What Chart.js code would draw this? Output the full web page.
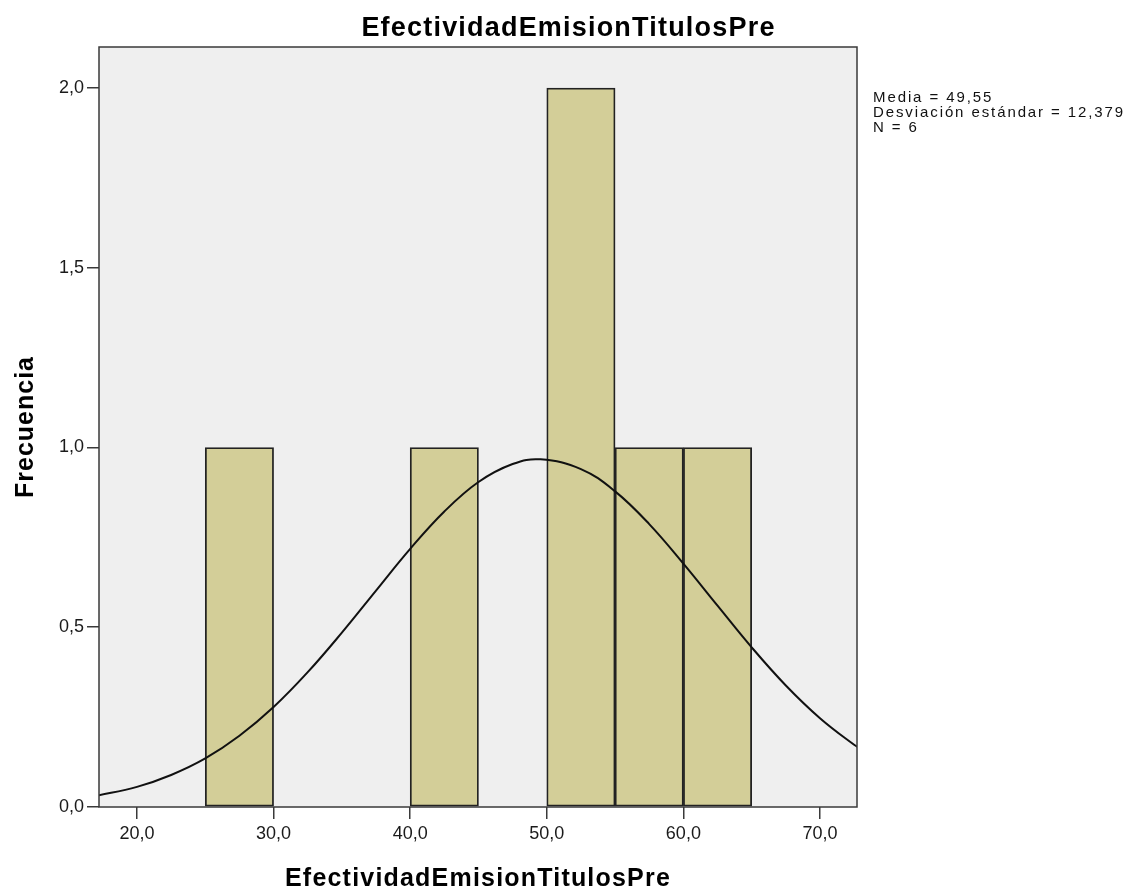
<!DOCTYPE html>
<html>
<head>
<meta charset="utf-8">
<script src="https://cdn.jsdelivr.net/npm/chart.js@4.4.1/dist/chart.umd.min.js"></script>
<style>
  html, body { margin: 0; padding: 0; background: #fff; }
  #wrap { width: 1137px; height: 890px; }
</style>
</head>
<body>
<div id="wrap"><canvas id="histChart"></canvas></div>
<script>
// histogram bins (centre of each 5-wide bin) and counts
const binCenters = [27.5, 42.5, 52.5, 57.5, 62.5];
const binCounts = [1, 1, 2, 1, 1];

// normal curve
const curveX = [17, 20, 22.5, 25, 27.5, 30, 32.5, 35, 37.5, 40, 42.5, 45, 47.5, 49.55, 52.5, 55, 57.5, 60, 62.5, 65, 67.5, 70, 72.5, 73];
const curveY = [0.031, 0.056, 0.089, 0.135, 0.198, 0.278, 0.375, 0.485, 0.602, 0.718, 0.822, 0.904, 0.954, 0.967, 0.940, 0.878, 0.787, 0.677, 0.560, 0.444, 0.338, 0.247, 0.173, 0.162];

const xTicks = [20, 30, 40, 50, 60, 70];
const yTicks = [0, 0.5, 1.0, 1.5, 2.0];

const statLines = ['Media = 49,55', 'Desviación estándar = 12,379', 'N = 6'];
const chartTitle = 'EfectividadEmisionTitulosPre';
const xTitle = 'EfectividadEmisionTitulosPre';
const yTitle = 'Frecuencia';

const FONT = '"Liberation Sans", Arial, sans-serif';

function fmt(v) {
    return v.toFixed(1).replace('.', ',');
}

function spaced(ctx, px) {
    try { ctx.letterSpacing = px + 'px'; } catch (e) {}
}

const plotFrame = {
    id: 'plotFrame',
    beforeDraw(chart) {
        const { ctx, chartArea: a } = chart;
        ctx.save();
        ctx.fillStyle = '#EFEFEF';
        ctx.fillRect(a.left, a.top, a.right - a.left, a.bottom - a.top);
        ctx.restore();
    },
    afterDraw(chart) {
        const { ctx, chartArea: a } = chart;
        ctx.save();
        ctx.strokeStyle = '#3A3A3A';
        ctx.lineWidth = 1.5;
        ctx.strokeRect(a.left, a.top, a.right - a.left, a.bottom - a.top);

        ctx.fillStyle = '#000';
        ctx.textAlign = 'center';
        ctx.textBaseline = 'alphabetic';

        // main title, centred on the whole picture
        ctx.font = 'bold 27px ' + FONT;
        spaced(ctx, 1.2);
        ctx.fillText(chartTitle, chart.width / 2, 36);

        // x axis title, centred under the plot
        ctx.font = 'bold 25px ' + FONT;
        ctx.fillText(xTitle, (a.left + a.right) / 2, 886);

        // y axis title
        ctx.save();
        ctx.translate(33, (a.top + a.bottom) / 2);
        ctx.rotate(-Math.PI / 2);
        spaced(ctx, 1);
        ctx.fillText(yTitle, 0, 0);
        ctx.restore();

        // stats text on the right
        ctx.fillStyle = '#111';
        ctx.font = '15px ' + FONT;
        ctx.textAlign = 'left';
        spaced(ctx, 1.9);
        statLines.forEach((t, i) => ctx.fillText(t, 873, 102 + i * 15));
        ctx.restore();
    }
};

const ctx = document.getElementById('histChart').getContext('2d');

new Chart(ctx, {
    type: 'bar',
    data: {
        datasets: [
            {
                type: 'line',
                data: curveX.map((x, i) => ({ x: x, y: curveY[i] })),
                borderColor: '#111',
                borderWidth: 2,
                pointRadius: 0,
                tension: 0.4,
                fill: false,
                order: 0
            },
            {
                type: 'bar',
                data: binCenters.map((x, i) => ({ x: x, y: binCounts[i] })),
                backgroundColor: '#D3CE98',
                borderColor: '#222',
                borderWidth: 1.8,
                borderSkipped: false,
                barPercentage: 1,
                categoryPercentage: 1,
                order: 1
            }
        ]
    },
    options: {
        responsive: true,
        maintainAspectRatio: false,
        animation: false,
        layout: { padding: { left: 0, right: 280, top: 47, bottom: 0 } },
        plugins: {
            legend: { display: false },
            tooltip: { enabled: false },
            title: { display: false }
        },
        scales: {
            x: {
                type: 'linear',
                min: 17.22,
                max: 72.71,
                offset: false,
                afterBuildTicks(scale) { scale.ticks = xTicks.map(v => ({ value: v })); },
                afterFit(scale) { scale.height = 83; },
                ticks: {
                    color: '#1A1A1A',
                    padding: 4,
                    maxRotation: 0,
                    font: { family: FONT, size: 18 },
                    callback: v => fmt(v)
                },
                grid: { offset: false, drawOnChartArea: false, tickLength: 12, color: '#3A3A3A', lineWidth: 1.5 },
                border: { display: false }
            },
            y: {
                min: 0,
                max: 2.114,
                afterBuildTicks(scale) { scale.ticks = yTicks.map(v => ({ value: v })); },
                afterFit(scale) { scale.width = 99; },
                ticks: {
                    color: '#1A1A1A',
                    padding: 3,
                    font: { family: FONT, size: 18 },
                    callback: v => fmt(v)
                },
                grid: { drawOnChartArea: false, tickLength: 12, color: '#3A3A3A', lineWidth: 1.5 },
                border: { display: false }
            }
        }
    },
    plugins: [plotFrame]
});
</script>
</body>
</html>
